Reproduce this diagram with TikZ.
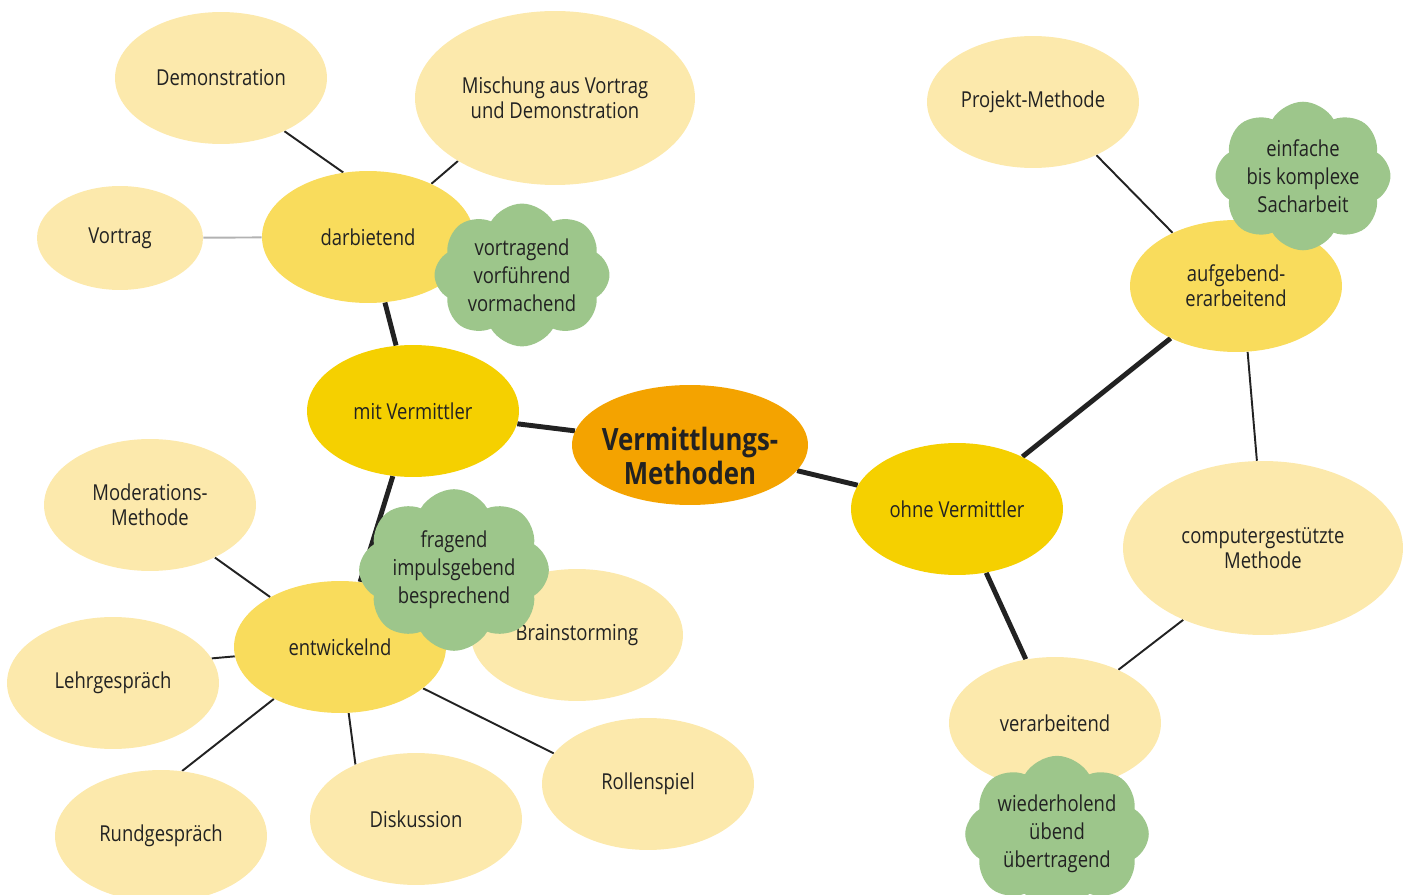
\documentclass[tikz,border=0pt]{standalone}
\usepackage{fontspec}
\setmainfont[FakeStretch=0.84]{Open Sans}
\usetikzlibrary{shapes.geometric, shapes.symbols, backgrounds}

\definecolor{kernorange}{HTML}{F4A300}
\definecolor{hauptgelb}{HTML}{F5D000}
\definecolor{mittelgelb}{HTML}{F9DC5C}
\definecolor{blassgelb}{HTML}{FCE9AC}
\definecolor{wolkengruen}{HTML}{9DC68B}
\definecolor{textgrau}{HTML}{222222}

\tikzset{
  blob/.style={ellipse, inner sep=0pt, align=center, text=textgrau,
    font=\fontsize{12.5}{14}\selectfont},
  kern/.style={ellipse, fill=kernorange, minimum width=4.72cm, minimum height=2.4cm},
  kerntext/.style={align=center, inner sep=0pt, text=textgrau,
    font=\fontsize{17.5}{19.5}\selectfont\bfseries},
  haupt/.style={blob, fill=hauptgelb, minimum width=4.24cm, minimum height=2.64cm},
  mittel/.style={blob, fill=mittelgelb, minimum width=4.24cm, minimum height=2.64cm},
  blatt/.style={blob, fill=blassgelb, minimum width=4.24cm, minimum height=2.64cm},
  grossblatt/.style={blatt, minimum width=5.6cm, minimum height=3.48cm},
  wolke/.style={cloud, cloud puffs=8, cloud puff arc=120, aspect=1.3,
    fill=wolkengruen, inner sep=0pt, minimum width=3.5cm, minimum height=2.7cm,
    align=center, text=textgrau, font=\fontsize{12.5}{16}\selectfont},
  dick/.style={line width=2.8pt, textgrau},
  duenn/.style={line width=1.1pt, textgrau}
}

\begin{document}
\begin{tikzpicture}[x=0.02cm, y=-0.02cm]
    \useasboundingbox (0,0) rectangle (1411,895);

    % Outer leaves
    \node[blatt] (demo) at (221,78) {Demonstration};
    \node[grossblatt] (mischung) at (555,98) {Mischung aus Vortrag\\und Demonstration};
    \node[blatt, minimum width=3.32cm, minimum height=2.08cm] (vortrag) at (120,238) {Vortrag};
    \node[blatt] (projekt) at (1033,102) {Projekt-Methode};
    \node[grossblatt] (computer) at (1263,548) {computergestützte\\Methode};
    \node[blatt] (moderation) at (150,505) {Moderations-\\Methode};
    \node[blatt] (lehr) at (113,683) {Lehrgespräch};
    \node[blatt] (rund) at (161,836) {Rundgespräch};
    \node[blatt] (diskussion) at (416,819) {Diskussion};
    \node[blatt] (rollen) at (648,784) {Rollenspiel};
    \node[blatt] (brain) at (577,635) {Brainstorming};

    % Second level
    \node[mittel] (darb) at (368,237) {darbietend};
    \node[mittel] (entw) at (340,647) {entwickelnd};
    \node[mittel] (aufg) at (1236,286) {aufgebend-\\erarbeitend};
    \node[blatt] (verarb) at (1055,723) {verarbeitend};

    % First level and centre
    \node[haupt] (mit) at (413,411) {mit Vermittler};
    \node[haupt] (ohne) at (957,509) {ohne Vermittler};
    \node[kern] (kern) at (690,445) {};
    \node[kerntext] (kerntitel) at (690,456) {Vermittlungs-\\Methoden};

    % Clouds
    \node[wolke] (w1) at (522,275) {vortragend\\vorführend\\vormachend};
    \node[wolke] (w2) at (454,570) {fragend\\impulsgebend\\besprechend};
    \node[wolke] (w3) at (1303,176) {einfache\\bis komplexe\\Sacharbeit};
    \node[wolke] (w4) at (1057,834) {wiederholend\\übend\\übertragend};

    % Connectors
    \begin{scope}[on background layer]
        \draw[dick] (kern) -- (mit);
        \draw[dick] (kern) -- (ohne);
        \draw[dick] (mit) -- (darb);
        \draw[dick] (mit) -- (entw);
        \draw[dick] (ohne) -- (aufg);
        \draw[dick] (ohne) -- (verarb);

        \draw[duenn] (darb.111) -- (demo.-40);
        \draw[duenn] (darb.40) -- (mischung.213);
        \draw[line width=1.1pt, black!30] (darb) -- (vortrag);
        \draw[duenn] (aufg.140) -- (projekt.-40);
        \draw[duenn] (aufg.-80) -- (computer.94);
        \draw[duenn] (verarb.40) -- (computer.222);
        \draw[duenn] (entw) -- (moderation.-39);
        \draw[duenn] (entw) -- (lehr.14);
        \draw[duenn] (entw) -- (rund.72);
        \draw[duenn] (entw) -- (diskussion.138);
        \draw[duenn] (entw) -- (rollen.162);
    \end{scope}
\end{tikzpicture}
\end{document}
